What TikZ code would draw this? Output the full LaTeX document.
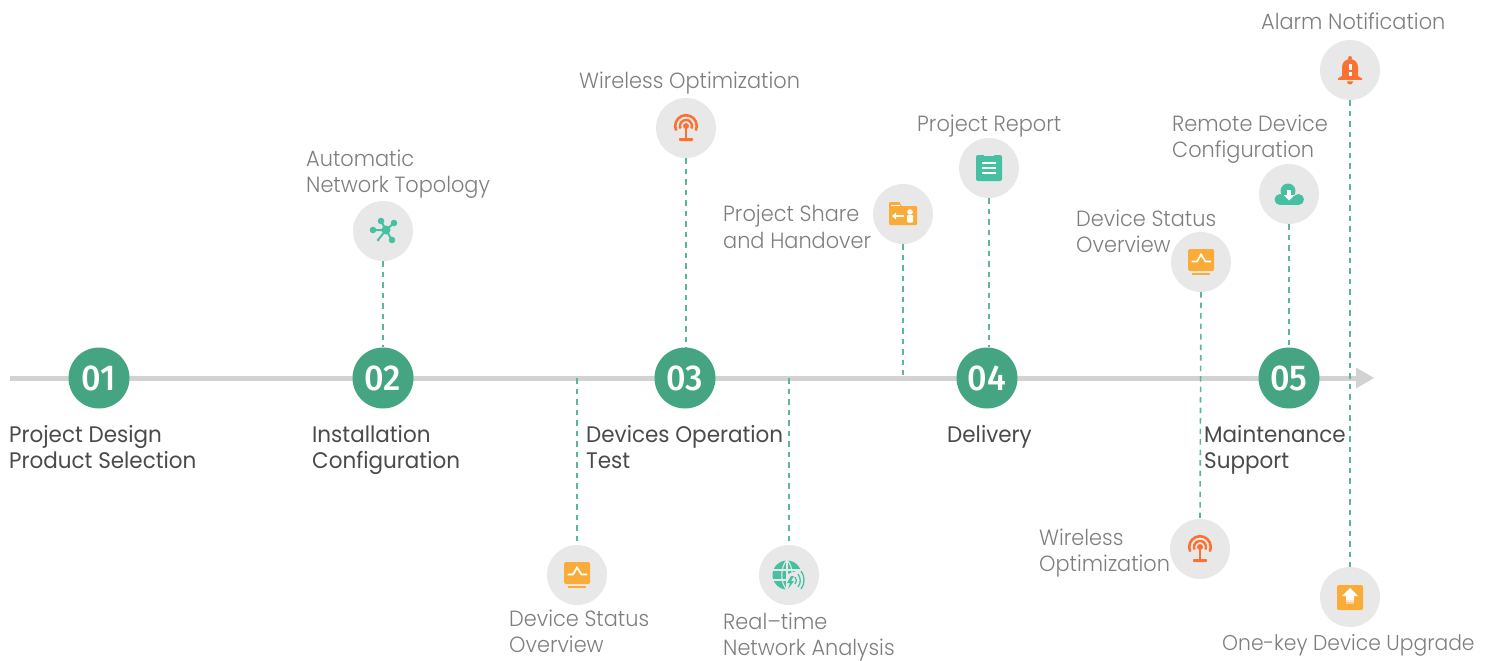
\documentclass[tikz,border=0pt]{standalone}
\usepackage{fontspec}
\setmainfont{Poppins}
\newfontfamily\lightfont[FakeStretch=0.948]{Poppins Light}
\newfontfamily\darkfont[FakeStretch=0.955]{Poppins}
\newfontfamily\numfont[FakeStretch=0.95]{Fira Sans Medium}
\definecolor{stepgreen}{HTML}{45A582}
\definecolor{dashgreen}{HTML}{5DB598}
\definecolor{axisgray}{HTML}{D2D2D2}
\definecolor{discgray}{HTML}{E8E8E8}
\definecolor{labelgray}{HTML}{7E7E7E}
\definecolor{titledark}{HTML}{4A4A4A}
\definecolor{icongreen}{HTML}{45C1A1}
\definecolor{iconorange}{HTML}{F97231}
\definecolor{iconamber}{HTML}{F9AC38}
\tikzset{
  x=1pt,y=-1pt,
  stepdisc/.style={circle,fill=stepgreen,minimum size=61pt,inner sep=0pt,text=white,font=\numfont\fontsize{36}{36}\selectfont},
  icondisc/.style={circle,fill=discgray,minimum size=60pt,inner sep=0pt},
  titletext/.style={inner sep=0pt,align=left,text=titledark,font=\darkfont\fontsize{22.5}{26}\selectfont,execute at begin node=\strut,execute at end node=\strut},
  notetext/.style={inner sep=0pt,align=left,text=labelgray,font=\lightfont\fontsize{22}{26.5}\selectfont,execute at begin node=\strut,execute at end node=\strut},
  leader/.style={dashgreen,line width=1.6pt,dash pattern=on 5.5pt off 5pt},
  monitoricon/.pic={
    \fill[iconamber,rounded corners=1.5pt] (-13,-13) rectangle (13,9);
    \fill[iconamber] (-9,10.5) rectangle (9,12.5);
    \draw[white,line width=1.7pt] (-9.5,-0.5) -- (-4,-0.5) -- (0,-7.5) -- (4.5,-0.5) -- (10,-0.5);
  },
  antennaicon/.pic={
    \draw[iconorange,line width=2.6pt] (0,-2) ++(-205:10.8) arc[start angle=-205,end angle=25,radius=10.8];
    \draw[iconorange,line width=2.4pt] (0,-2) ++(-205:6) arc[start angle=-205,end angle=25,radius=6];
    \fill[iconorange] (0,-2) circle[radius=3];
    \fill[iconorange] (-1.1,-2) rectangle (1.1,11);
    \fill[iconorange,rounded corners=.8pt] (-7,10) rectangle (7,13);
  },
  hubicon/.pic={
    \draw[icongreen,line width=2pt] (3,-1) -- (-2,-10) (3,-1) -- (11,-8) (3,-1) -- (-10,-1) (3,-1) -- (-5,9) (3,-1) -- (9,9);
    \fill[icongreen] (3,-1) circle[radius=4.5];
    \fill[icongreen] (-2,-10) circle[radius=3.3] (11,-8) circle[radius=3.3] (-10,-1) circle[radius=3.3] (9,9) circle[radius=3.3] (-5,9) circle[radius=1.5];
  },
  foldericon/.pic={
    \fill[iconamber,rounded corners=1pt] (-14,-12) -- (-3,-12) -- (-2,-8) -- (14,-8) -- (14,11) -- (-14,11) -- cycle;
    \draw[white,line width=1pt] (-12,-8.5) -- (-3,-8.5);
    \draw[white,line width=1.7pt] (-8,2) -- (1,2);
    \fill[white] (-11,2) -- (-7,-1.5) -- (-7,5.5) -- cycle;
    \fill[white] (7,-2) circle[radius=2.8];
    \fill[white,rounded corners=1pt] (4,1) rectangle (10,8.5);
  },
  clipicon/.pic={
    \fill[icongreen,rounded corners=2pt] (-13,-13) rectangle (13,13);
    \fill[discgray] (-5,-13) rectangle (5,-12);
    \draw[white,line width=1.2pt] (-7,-5) -- (7,-5) (-7,0) -- (7,0) (-7,5) -- (7,5);
  },
  cloudicon/.pic={
    \fill[icongreen] (-1,-3) circle[radius=7.5];
    \fill[icongreen] (-9,5.5) circle[radius=5.5];
    \fill[icongreen] (9.5,5.5) circle[radius=5.5];
    \fill[icongreen] (-9,2) rectangle (9.5,11);
    \fill[white] (-2.2,-4) rectangle (2.2,1);
    \fill[white] (-5.5,1) -- (5.5,1) -- (0,6.5) -- cycle;
  },
  bellicon/.pic={
    \fill[iconorange] (0,-12) circle[radius=2];
    \fill[iconorange] (-8,6) -- (-8,-3) arc[start angle=-180,end angle=0,radius=8] -- (8,6) -- (12,8.5) -- (12,10) -- (-12,10) -- (-12,8.5) -- cycle;
    \fill[iconorange] (-3,11.5) -- (3,11.5) arc[start angle=0,end angle=180,radius=3] -- cycle;
    \fill[white] (-1.5,-6) rectangle (1.5,0.5);
    \fill[white] (-1.5,2.5) rectangle (1.5,6);
  },
  globeicon/.pic={
    \fill[icongreen] (-2,0) circle[radius=14.5];
    \draw[discgray,line width=1.1pt] (-16,-5) -- (12,-5) (-16,5) -- (12,5) (-2,-15) -- (-2,15);
    \draw[discgray,line width=1.1pt] (-2,-15) .. controls (-9,-8) and (-9,8) .. (-2,15) (-2,-15) .. controls (5,-8) and (5,8) .. (-2,15);
    \fill[discgray] (-1,-1) -- (13,-6) -- (17,16) -- (-1,16) -- cycle;
    \fill[icongreen] (2,1) -- (-2,8) -- (1,8) -- (-1,14) -- (5,6) -- (2,6) -- (5,1) -- cycle;
    \draw[icongreen,line width=1.3pt] (6,2) .. controls (8,4) and (8,7) .. (6,9) (9,-1) .. controls (12,3) and (12,8) .. (9,12) (12,-4) .. controls (16,1) and (16,9) .. (12,14);
  },
  upgradeicon/.pic={
    \fill[iconamber,rounded corners=2pt] (-13,-12) rectangle (13,13);
    \fill[white] (0,-9) -- (8,-1) -- (4,-1) -- (4,3) -- (-4,3) -- (-4,-1) -- (-8,-1) -- cycle;
    \fill[white,opacity=.7] (-4,3) rectangle (4,5);
    \fill[white,opacity=.4] (-4,5) rectangle (4,7);
  },
}
\begin{document}
\begin{tikzpicture}
\useasboundingbox (0,0) rectangle (1494,661);
% axis
\coordinate (axisstart) at (10,378);
\coordinate (axisend) at (1358,378);
\draw[axisgray,line width=5pt] (axisstart) -- (axisend);
\fill[axisgray] (1356,367.5) -- (1374,378) -- (1356,388.5) -- cycle;
% free ends on the axis
\coordinate (footA) at (577,378);
\coordinate (footB) at (789,378);
\coordinate (footC) at (903,375);
% discs
\node[icondisc] (autotopo) at (383,231) {};
\node[icondisc] (wirelessA) at (686,128) {};
\node[icondisc] (share) at (903,214) {};
\node[icondisc] (report) at (989,168) {};
\node[icondisc] (statusB) at (1201,262) {};
\node[icondisc] (remote) at (1289,194) {};
\node[icondisc] (alarm) at (1350,70) {};
\node[icondisc] (statusA) at (577,575) {};
\node[icondisc] (realtime) at (789,575) {};
\node[icondisc] (wirelessB) at (1200,549) {};
\node[icondisc] (upgrade) at (1350,597) {};
\node[stepdisc] (s1) at (99,378) {01};
\node[stepdisc] (s2) at (383,378) {02};
\node[stepdisc] (s3) at (685,378) {03};
\node[stepdisc] (s4) at (987,378) {04};
\node[stepdisc] (s5) at (1289,378) {05};
% leaders
\draw[leader] (autotopo.south) -- (autotopo.south |- s2.north);
\draw[leader] (wirelessA.south) -- (wirelessA.south |- s3.north);
\draw[leader] (share.south) -- (footC);
\draw[leader] (report.south) -- (report.south |- s4.north);
\draw[leader] (statusB.south) -- (wirelessB.north);
\draw[leader] (remote.south) -- (s5.north);
\draw[leader] (alarm.south) -- (upgrade.north);
\draw[leader] (footA) -- (statusA.north);
\draw[leader] (footB) -- (realtime.north);
% icons
\pic at (autotopo) {hubicon};
\pic at (wirelessA) {antennaicon};
\pic at (share) {foldericon};
\pic at (report) {clipicon};
\pic at (statusB) {monitoricon};
\pic at (remote) {cloudicon};
\pic at (alarm) {bellicon};
\pic at (statusA) {monitoricon};
\pic at (realtime) {globeicon};
\pic at (wirelessB) {antennaicon};
\pic at (upgrade) {upgradeicon};
% titles
\node[titletext,anchor=west] (t1) at (9,450.8) {Project Design\\Product Selection};
\node[titletext,anchor=west] (t2) at (312,450.8) {Installation\\Configuration};
\node[titletext,anchor=west] (t3) at (586,450.8) {Devices Operation\\Test};
\node[titletext,anchor=west] (t4) at (947,436.8) {Delivery};
\node[titletext,anchor=west] (t5) at (1204,450.8) {Maintenance\\Support};
% notes
\node[notetext,anchor=west] (n1) at (306,175.3) {Automatic\\Network Topology};
\node[notetext,anchor=west] (n2) at (579,83) {Wireless Optimization};
\node[notetext,anchor=west] (n3) at (723,230.5) {Project Share\\and Handover};
\node[notetext,anchor=west] (n4) at (917,125.7) {Project Report};
\node[notetext,anchor=west] (n5) at (1076,235.3) {Device Status\\Overview};
\node[notetext,anchor=west] (n6) at (1172,140) {Remote Device\\Configuration};
\node[notetext,anchor=west] (n7) at (1261,24.7) {Alarm Notification};
\node[notetext,anchor=west] (n8) at (509,635) {Device Status\\Overview};
\node[notetext,anchor=west] (n9) at (723,638) {Real–time\\Network Analysis};
\node[notetext,anchor=west] (n10) at (1039,554.3) {Wireless\\Optimization};
\node[notetext,anchor=west,font=\lightfont\fontsize{21.4}{26.5}\selectfont] (n11) at (1222,644.7) {One-key Device Upgrade};
\end{tikzpicture}
\end{document}
